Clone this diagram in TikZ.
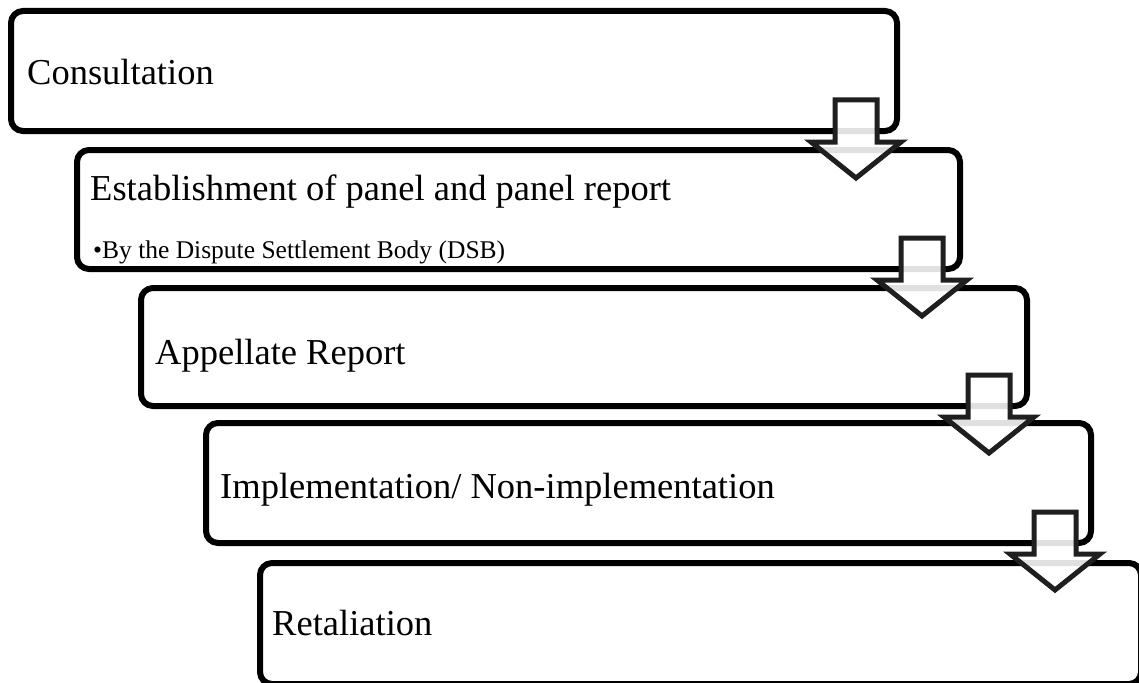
\documentclass[tikz,border=0pt]{standalone}
\usepackage{fontspec}
\setmainfont{Liberation Serif}
\usetikzlibrary{calc}
\begin{document}
\begin{tikzpicture}[x=1pt,y=-1pt,
  stage/.style={draw=black, fill=white, line width=6pt, rounded corners=12pt,
    rectangle, inner sep=0pt, outer sep=0pt, anchor=north west,
    minimum width=886pt, minimum height=120pt},
  bigtext/.style={anchor=base west, inner sep=0pt, font=\fontsize{36.5}{40}\selectfont},
  smalltext/.style={anchor=base west, inner sep=0pt, font=\fontsize{25.5}{28}\selectfont},
  blockarrow/.style={draw=black!88, fill=white, fill opacity=0.88, line width=5pt}]
\useasboundingbox (0,0) rectangle (1139,682);
\clip (0,0) rectangle (1139,682);
\fill[white] (0,0) rectangle (1139,682);
% stages
\node[stage] (b1) at (11,11) {};
\node[stage, minimum width=883pt, minimum height=119pt] (b2) at (77,150) {};
\node[stage, minimum height=118pt] (b3) at (141,288) {};
\node[stage, minimum width=885pt] (b4) at (206,423) {};
\node[stage, minimum width=881pt, minimum height=121pt] (b5) at (260,563) {};
% texts
\node[bigtext] (t1) at (27,85) {Consultation};
\node[bigtext] (t2) at (90,200) {Establishment of panel and panel report};
\node[smalltext] (t2b) at (93,258) {•By the Dispute Settlement Body (DSB)};
\node[bigtext] (t3) at (155,364) {Appellate Report};
\node[bigtext] (t4) at (220,498) {Implementation/ Non-implementation};
\node[bigtext] (t5) at (272,635) {Retaliation};
% arrows
\foreach \b/\off in {b1/41, b2/38, b3/38, b4/36}{
  \coordinate (c\b) at ($(\b.south east)+(-\off,0)$);
  \draw[blockarrow] ($(c\b)+(-21,-31)$) -- ++(42,0) -- ++(0,42) -- ++(24,0)
     -- ++(-45,36) -- ++(-45,-36) -- ++(24,0) -- cycle;
}
\end{tikzpicture}
\end{document}
